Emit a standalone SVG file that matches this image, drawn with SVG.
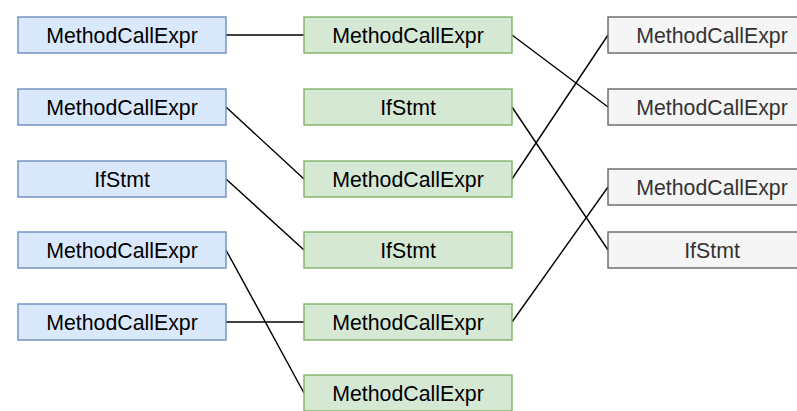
<svg xmlns="http://www.w3.org/2000/svg" width="797" height="411" viewBox="0 0 797 411">
  <style>
    .box { stroke-width: 1.4; }
    .blue { fill: #dae8fc; stroke: #6c8ebf; }
    .green { fill: #d5e8d4; stroke: #82b366; }
    .gray { fill: #f5f5f5; stroke: #666666; }
    .lbl { font-family: "Liberation Sans", Arial, sans-serif; font-size: 21.3px; text-anchor: middle; fill: #000000; }
    .lbl.dim { fill: #333333; }
    .edge { fill: none; stroke: #000000; stroke-width: 1.4; }
  </style>
  <rect width="797" height="411" fill="#ffffff"/>

  <!-- connectors -->
  <g id="edges">
    <line class="edge" x1="226" y1="35" x2="304" y2="35"/>
    <line class="edge" x1="226" y1="107" x2="304" y2="179"/>
    <line class="edge" x1="226" y1="179" x2="304" y2="250"/>
    <line class="edge" x1="226" y1="250" x2="304" y2="393"/>
    <line class="edge" x1="226" y1="322" x2="304" y2="322"/>
    <line class="edge" x1="512" y1="35" x2="608" y2="107"/>
    <line class="edge" x1="512" y1="107" x2="608" y2="250"/>
    <line class="edge" x1="512" y1="179" x2="608" y2="35"/>
    <line class="edge" x1="512" y1="322" x2="608" y2="187"/>
  </g>

  <!-- left column -->
  <g id="l1"><rect class="box blue" x="18" y="17" width="208" height="36"/><text class="lbl" x="122" y="42.6">MethodCallExpr</text></g>
  <g id="l2"><rect class="box blue" x="18" y="89" width="208" height="36"/><text class="lbl" x="122" y="114.6">MethodCallExpr</text></g>
  <g id="l3"><rect class="box blue" x="18" y="161" width="208" height="36"/><text class="lbl" x="122" y="186.6">IfStmt</text></g>
  <g id="l4"><rect class="box blue" x="18" y="232" width="208" height="36"/><text class="lbl" x="122" y="257.6">MethodCallExpr</text></g>
  <g id="l5"><rect class="box blue" x="18" y="304" width="208" height="36"/><text class="lbl" x="122" y="329.6">MethodCallExpr</text></g>

  <!-- middle column -->
  <g id="m1"><rect class="box green" x="304" y="17" width="208" height="36"/><text class="lbl" x="408" y="42.6">MethodCallExpr</text></g>
  <g id="m2"><rect class="box green" x="304" y="89" width="208" height="36"/><text class="lbl" x="408" y="114.6">IfStmt</text></g>
  <g id="m3"><rect class="box green" x="304" y="161" width="208" height="36"/><text class="lbl" x="408" y="186.6">MethodCallExpr</text></g>
  <g id="m4"><rect class="box green" x="304" y="232" width="208" height="36"/><text class="lbl" x="408" y="257.6">IfStmt</text></g>
  <g id="m5"><rect class="box green" x="304" y="304" width="208" height="36"/><text class="lbl" x="408" y="329.6">MethodCallExpr</text></g>
  <g id="m6"><rect class="box green" x="304" y="375" width="208" height="36"/><text class="lbl" x="408" y="400.6">MethodCallExpr</text></g>

  <!-- right column -->
  <g id="r1"><rect class="box gray" x="608" y="17" width="208" height="36"/><text class="lbl dim" x="712" y="42.6">MethodCallExpr</text></g>
  <g id="r2"><rect class="box gray" x="608" y="89" width="208" height="36"/><text class="lbl dim" x="712" y="114.6">MethodCallExpr</text></g>
  <g id="r3"><rect class="box gray" x="608" y="169" width="208" height="36"/><text class="lbl dim" x="712" y="194.6">MethodCallExpr</text></g>
  <g id="r4"><rect class="box gray" x="608" y="232" width="208" height="36"/><text class="lbl dim" x="712" y="257.6">IfStmt</text></g>
</svg>
